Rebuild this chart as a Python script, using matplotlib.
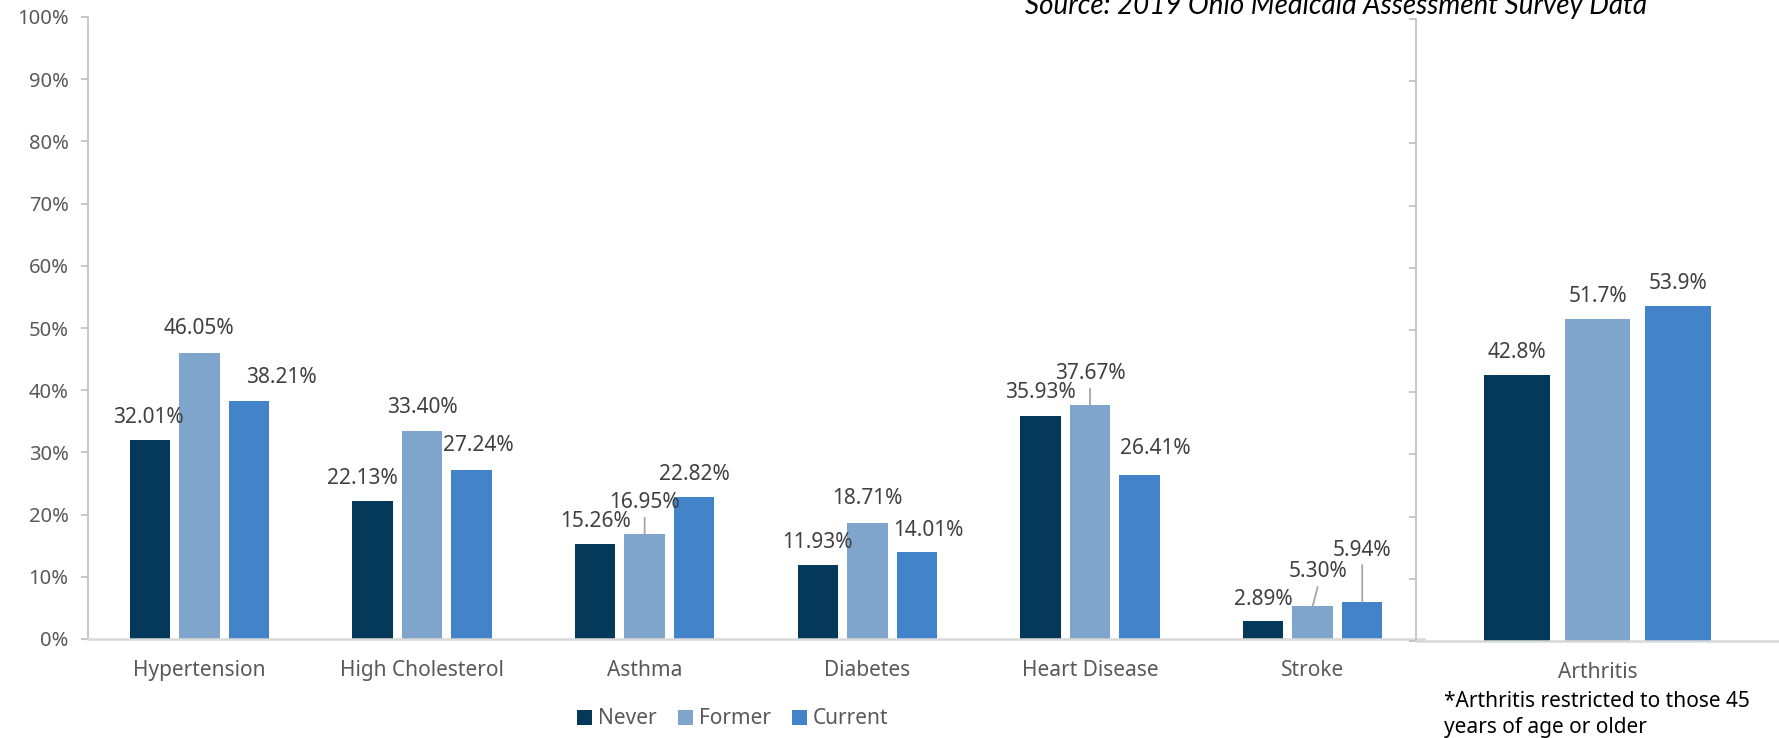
import matplotlib
matplotlib.use("Agg")
import matplotlib.pyplot as plt
import numpy as np

# ---------------- data ----------------
categories = ["Hypertension", "High Cholesterol", "Asthma", "Diabetes", "Heart Disease", "Stroke"]
series_names = ["Never", "Former", "Current"]
never = [32.01, 22.13, 15.26, 11.93, 35.93, 2.89]
former = [46.05, 33.40, 16.95, 18.71, 37.67, 5.30]
current = [38.21, 27.24, 22.82, 14.01, 26.41, 5.94]

arth_categories = ["Arthritis"]
arth_never = [42.8]
arth_former = [51.7]
arth_current = [53.9]

y_ticks = [0, 10, 20, 30, 40, 50, 60, 70, 80, 90, 100]

source_text = "Source: 2019 Ohio Medicaid Assessment Survey Data"
footnote_text = "*Arthritis restricted to those 45\nyears of age or older"

# ---------------- style / positions ----------------
colors = ["#043959", "#7FA5CC", "#4283C9"]
label_color = "#404040"
tick_color = "#595959"
spine_color = "#BFBFBF"
base_color = "#D9D9D9"
leader_color = "#A6A6A6"
FONT = "Noto Sans"

bar_w = 0.182
pitch = 0.2225

# label-centre offsets (pixels) relative to bar top-centre
main_offsets = [
    [(-1, 24), (-10, 25), (0, 25), (0, 24), (0, 25), (0, 24)],
    [(0, 26), (0, 26), (0, 33), (0, 26), (0, 33), (5, 37)],
    [(32, 26), (7, 26), (0, 25), (11, 23), (16, 28), (0, 54)],
]
arth_offsets = [[(0, 24)], [(0, 25)], [(0, 24)]]
# leader lines: (series index, category index, dx_end, dy_end) in pixels
leaders = [(1, 2, 0, 16), (1, 4, 0, 16), (1, 5, 5, 19), (2, 5, 0, 37)]

W, H = 1779, 738
fig = plt.figure(figsize=(W / 100, H / 100), dpi=100)
fig.patch.set_facecolor("white")

ax = fig.add_axes([88 / W, (H - 639) / H, 1336 / W, 622 / H])
ax2 = fig.add_axes([1416 / W, (H - 641) / H, 363 / W, 622 / H])


def style_axes(a):
    a.set_ylim(0, 100)
    a.set_yticks(y_ticks)
    for s in ["top", "right"]:
        a.spines[s].set_visible(False)
    a.spines["left"].set_color(spine_color)
    a.spines["left"].set_linewidth(1.2)
    a.spines["bottom"].set_color(base_color)
    a.spines["bottom"].set_linewidth(1.8)
    a.tick_params(axis="y", direction="out", length=5, width=1.2, color=spine_color,
                  labelcolor=tick_color, labelsize=14.5, pad=9)
    a.tick_params(axis="x", length=0, labelcolor=tick_color, labelsize=15, pad=15)
    for t in a.get_xticklabels() + a.get_yticklabels():
        t.set_fontfamily(FONT)
    a.set_facecolor("none")


def label_bars(a, xs, vals, offs, fmt):
    for x, v, (dx, dy) in zip(xs, vals, offs):
        a.annotate(fmt.format(v), xy=(x, v), xytext=(dx, dy - 7.5),
                   textcoords="offset pixels", ha="center", va="baseline",
                   fontsize=15, color=label_color, family=FONT)


# main panel
x = np.arange(len(categories))
handles = []
all_main = [never, former, current]
for i, (vals, c) in enumerate(zip(all_main, colors)):
    xs = x + (i - 1) * pitch
    b = ax.bar(xs, vals, width=bar_w, color=c, label=series_names[i], zorder=2)
    handles.append(b)
    label_bars(ax, xs, vals, main_offsets[i], "{:.2f}%")

for si, ci, dx, dy in leaders:
    xs = x[ci] + (si - 1) * pitch
    v = all_main[si][ci]
    ax.annotate("", xy=(xs, v), xytext=(dx, dy), textcoords="offset pixels",
                arrowprops=dict(arrowstyle="-", color=leader_color, lw=1.3,
                                shrinkA=0, shrinkB=0))

ax.set_xlim(-0.5, len(categories) - 0.5)
ax.set_xticks(x)
ax.set_xticklabels(categories)
style_axes(ax)
ax.set_yticklabels([f"{t}%" for t in y_ticks])
for t in ax.get_yticklabels():
    t.set_fontfamily(FONT)

# arthritis panel
xa = np.arange(len(arth_categories))
for i, (vals, c) in enumerate(zip([arth_never, arth_former, arth_current], colors)):
    xs = xa + (i - 1) * 0.222
    ax2.bar(xs, vals, width=0.18, color=c, zorder=2)
    label_bars(ax2, xs, vals, arth_offsets[i], "{:.1f}%")
ax2.set_xlim(-0.5, 0.5)
ax2.set_xticks(xa)
ax2.set_xticklabels(arth_categories)
style_axes(ax2)
ax2.set_yticklabels([])

# legend
leg = fig.legend(handles=handles, labels=series_names, loc="center",
                 bbox_to_anchor=(733 / W, 1 - 719 / H), ncol=3, frameon=False,
                 prop={"family": FONT, "size": 15}, handlelength=0.72, handleheight=0.72,
                 handletextpad=0.3, columnspacing=1.0, labelcolor=tick_color)

# source and footnote
fig.text(1647 / W, 1 - 14 / H, source_text, ha="right", va="baseline",
         fontsize=20, style="italic", family="Lato", color="black")
fig.text(1444 / W, 1 - 691 / H, footnote_text, ha="left", va="top",
         fontsize=15, family=FONT, color="black", linespacing=1.3)

fig.savefig("out.png", dpi=100, facecolor="white")
